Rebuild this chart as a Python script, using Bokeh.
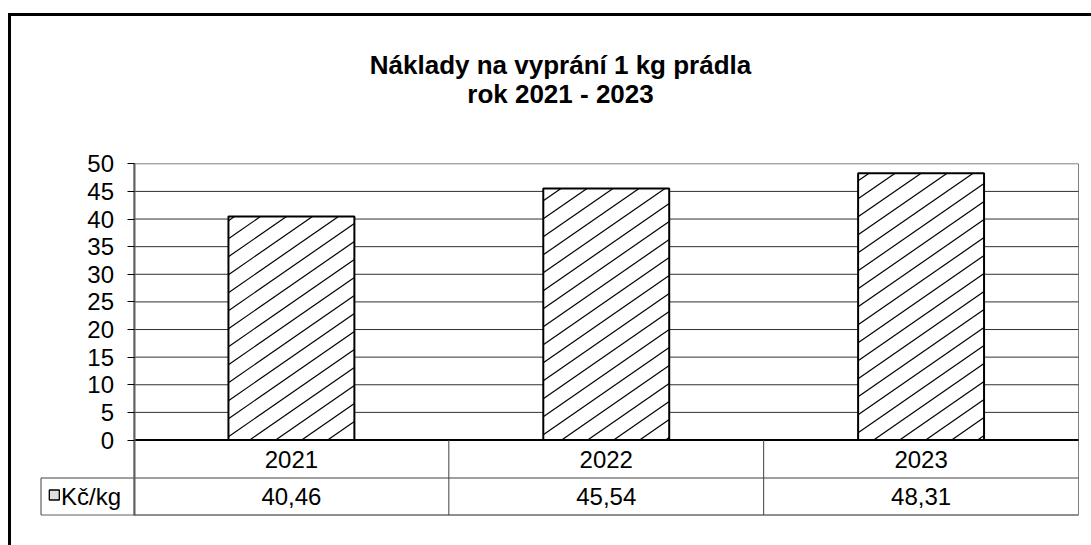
import math
from bokeh.plotting import figure
from bokeh.models import ColumnDataSource, Range1d, FixedTicker, LinearAxis, Label
from bokeh.embed import file_html
from bokeh.resources import INLINE
from bokeh.core.properties import value

# ---- data ----
title_line1 = "Náklady na vyprání 1 kg prádla"
title_line2 = "rok 2021 - 2023"
years = ["2021", "2022", "2023"]
costs = [40.46, 45.54, 48.31]
series_name = "Kč/kg"
y_ticks = [0, 5, 10, 15, 20, 25, 30, 35, 40, 45, 50]

# ---- layout (pixel positions of the chart furniture) ----
W, H = 1091, 545
FONT = "Liberation Sans"
AXIS_PX = 133.5                      # x pixel of value axis / first category edge
CAT_PX = (1078.0 - AXIS_PX) / len(years)   # pixel width of one category
ZERO_PY = 439.5                      # y pixel of value 0
UNIT_PY = (ZERO_PY - 163.3) / y_ticks[-1]  # pixels per value unit
BAR_W = 0.4                          # bar width as fraction of a category
HATCH_DX, HATCH_DY = 26.0, 18.0      # hatch line spacing in pixels


def X(px):
    return (px - AXIS_PX) / CAT_PX


def Y(py):
    return (ZERO_PY - py) / UNIT_PY


TABLE_BOTTOM = Y(514.5)
ROW_SPLIT = Y(477.5)
ROW1_MID = ROW_SPLIT / 2
ROW2_MID = (ROW_SPLIT + TABLE_BOTTOM) / 2
LEGEND_LEFT = X(40.5)
N = len(years)

x_pos = [i + 0.5 for i in range(N)]
value_labels = [f"{v:.2f}".replace(".", ",") for v in costs]
src = ColumnDataSource(dict(x=x_pos, year=years, cost=costs, label=value_labels))

# diagonal hatch lines clipped to each bar
slope = HATCH_DY / HATCH_DX
hx0, hy0, hx1, hy1 = [], [], [], []
for xc, v in zip(x_pos, costs):
    L = AXIS_PX + (xc - BAR_W / 2) * CAT_PX
    R = AXIS_PX + (xc + BAR_W / 2) * CAT_PX
    T = ZERO_PY - v * UNIT_PY
    B = ZERO_PY
    k0 = math.floor((T + slope * L) / HATCH_DY)
    k1 = math.ceil((B + slope * R) / HATCH_DY)
    for k in range(k0, k1 + 1):
        c = k * HATCH_DY
        a = max(L, (c - B) / slope)
        b = min(R, (c - T) / slope)
        if b - a > 0.5:
            hx0.append(X(a)); hy0.append(Y(c - slope * a))
            hx1.append(X(b)); hy1.append(Y(c - slope * b))

p = figure(width=W, height=H,
           x_range=Range1d(X(0), X(W)), y_range=Range1d(Y(H), Y(0)),
           x_axis_location=None, y_axis_location=None,
           output_backend="svg", toolbar_location=None,
           min_border=0)
p.min_border_left = p.min_border_right = p.min_border_top = p.min_border_bottom = 0
p.title.visible = False
p.grid.visible = False
p.outline_line_color = None
p.background_fill_color = "white"
p.border_fill_color = "white"

# value axis, sitting at the first category edge
yax = LinearAxis(fixed_location=0, ticker=FixedTicker(ticks=y_ticks),
                 bounds=(TABLE_BOTTOM, y_ticks[-1]))
yax.major_tick_out = 7
yax.major_tick_in = 0
yax.minor_tick_line_color = None
yax.major_tick_line_color = "black"
yax.axis_line_color = "#606060"
yax.axis_line_width = 2
yax.major_label_text_font = FONT
yax.major_label_text_font_size = "24px"
yax.major_label_text_color = "black"
yax.major_label_standoff = 13
p.add_layout(yax, "left")

# plot area border (grey)
p.quad(left=0, right=N, bottom=TABLE_BOTTOM, top=y_ticks[-1],
       fill_color=None, line_color="#808080", line_width=1)

# horizontal grid lines
grid_y = y_ticks[1:-1]
p.segment(x0=[0] * len(grid_y), x1=[N] * len(grid_y), y0=grid_y, y1=grid_y,
          line_color="#303030", line_width=1)

# bars: white fill, hatch, then black outline
p.vbar(x="x", top="cost", width=BAR_W, source=src,
       fill_color="white", line_color=None)
p.segment(x0=hx0, y0=hy0, x1=hx1, y1=hy1, line_color="black", line_width=1.2)
p.vbar(x="x", top="cost", width=BAR_W, source=src,
       fill_color=None, line_color="black", line_width=2)

# data table
p.segment(x0=[0, LEGEND_LEFT, LEGEND_LEFT], x1=[N, N, N],
          y0=[0, ROW_SPLIT, TABLE_BOTTOM], y1=[0, ROW_SPLIT, TABLE_BOTTOM],
          line_color=["black", "#404040", "#606060"], line_width=[2, 1, 1])
bounds = list(range(1, N))
p.segment(x0=bounds + [LEGEND_LEFT], x1=bounds + [LEGEND_LEFT],
          y0=[TABLE_BOTTOM] * len(bounds) + [TABLE_BOTTOM],
          y1=[0] * len(bounds) + [ROW_SPLIT],
          line_color="#404040", line_width=1)

p.text(x="x", y=ROW1_MID, text="year", source=src,
       text_font=value(FONT), text_font_size="24px", text_color="black",
       text_align="center", text_baseline="middle")
p.text(x="x", y=ROW2_MID, text="label", source=src,
       text_font=value(FONT), text_font_size="24px", text_color="black",
       text_align="center", text_baseline="middle")

# legend key in the table
p.rect(x=[X(53.8)], y=[Y(494.5)], width=10, height=10,
       width_units="screen", height_units="screen",
       fill_color="#e0e0e0", line_color="black", line_width=1.3)
p.text(x=[X(60.5)], y=[ROW2_MID], text=[series_name],
       text_font=value(FONT), text_font_size="24px", text_color="black",
       text_align="left", text_baseline="middle")

# title
p.add_layout(Label(x=X(560), y=Y(64), text=title_line1, text_font=FONT,
                   text_font_size="26px", text_font_style="bold", text_color="black",
                   text_align="center", text_baseline="alphabetic"))
p.add_layout(Label(x=X(560), y=Y(93), text=title_line2, text_font=FONT,
                   text_font_size="26px", text_font_style="bold", text_color="black",
                   text_align="center", text_baseline="alphabetic"))

# outer chart border (continues past the right and bottom edges)
p.line(x=[X(9), X(9), X(W + 50)], y=[Y(H + 50), Y(14), Y(14)],
       line_color="black", line_width=3, line_join="miter")

open("out.html", "w").write(file_html(p, INLINE))
